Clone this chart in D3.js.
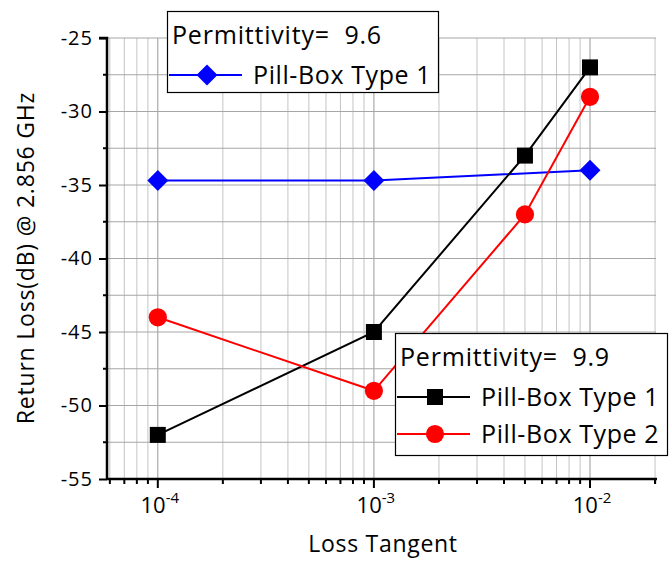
<!DOCTYPE html>
<html><head><meta charset="utf-8">
<script src="https://cdn.jsdelivr.net/npm/d3@7"></script>
<style>body{margin:0;background:#fff}svg{display:block}</style>
</head><body>
<script>
const lossTangent = [1e-4, 1e-3, 5e-3, 1e-2];
const blueX = [1e-4, 1e-3, 1e-2];
const blueType1 = [-34.7, -34.7, -34.0];
const blackType1 = [-52, -45, -33, -27];
const redType2 = [-44, -49, -37, -29];
const yTicks = [-55, -50, -45, -40, -35, -30, -25];
const xMajor = [1e-4, 1e-3, 1e-2];

const W = 671, H = 561;
const font = "'Open Sans', sans-serif";
const svg = d3.select("body").append("svg").attr("width", W).attr("height", H);
const x = d3.scaleLog().domain([5.82e-5, 2.02e-2]).range([107, 656]);
const y = d3.scaleLinear().domain([-55, -25]).range([479, 38]);

const xMinor = [];
for (let e = -5; e <= -2; e++) for (let m = 1; m <= 9; m++) {
  const v = m * Math.pow(10, e);
  if (v >= x.domain()[0] && v <= x.domain()[1]) xMinor.push(v);
}
const isMajor = d => xMajor.some(m => Math.abs(m - d) / m < 1e-6);
const g = svg.append("g");
g.selectAll(".vg").data(xMinor).join("line")
  .attr("x1", d => x(d)).attr("x2", d => x(d)).attr("y1", y(-25)).attr("y2", y(-55))
  .attr("stroke", d => isMajor(d) ? "#999" : "#c4c4c4").attr("stroke-width", 1);
const yGrid = d3.range(-52.5, -24.9, 2.5);
g.selectAll(".hg").data(yGrid).join("line")
  .attr("x1", x.range()[0]).attr("x2", x.range()[1]).attr("y1", d => y(d)).attr("y2", d => y(d))
  .attr("stroke", "#a6a6a6").attr("stroke-width", 1);

// axes
const yAxis = d3.axisLeft(y).tickValues(yTicks).tickSize(8).tickPadding(6).tickFormat(d => String(d));
const ya = svg.append("g").attr("transform", `translate(${x.range()[0]},0)`).call(yAxis);
ya.select(".domain").attr("stroke-width", 2.5).attr("d", `M-8,${y(-25)}H0V${y(-55)}`);
ya.selectAll(".tick line").attr("stroke-width", 2);
ya.selectAll(".tick text").attr("font-family", font).attr("font-size", 20).attr("letter-spacing", 1).attr("fill", "#000");
const yMinor = d3.range(-52.5, -25, 5);
svg.append("g").selectAll("line").data(yMinor).join("line")
  .attr("x1", x.range()[0] - 4).attr("x2", x.range()[0]).attr("y1", d => y(d)).attr("y2", d => y(d))
  .attr("stroke", "#000").attr("stroke-width", 2);

const xa = svg.append("g").attr("transform", `translate(0,${y.range()[0]})`);
xa.append("line").attr("x1", x.range()[0]).attr("x2", x.range()[1] + 1).attr("y1", 0).attr("y2", 0)
  .attr("stroke", "#000").attr("stroke-width", 2.5);
xa.selectAll(".mt").data(xMinor.concat([2e-2])).join("line")
  .attr("x1", d => x(d)).attr("x2", d => x(d)).attr("y1", 0)
  .attr("y2", d => isMajor(d) ? 9 : 5)
  .attr("stroke", "#000").attr("stroke-width", 2);
const xl = xa.selectAll(".xl").data(xMajor).join("text")
  .attr("x", d => x(d) + 2).attr("y", 34).attr("text-anchor", "middle")
  .attr("font-family", font).attr("font-size", 22).attr("fill", "#000");
xl.append("tspan").text("10");
xl.append("tspan").attr("dy", -10).attr("font-size", 15).text(d => Math.round(Math.log10(d)));

// axis titles
svg.append("text").attr("x", 383).attr("y", 552).attr("text-anchor", "middle")
  .attr("font-family", font).attr("font-size", 23).attr("letter-spacing", 0.7).text("Loss Tangent");
svg.append("text").attr("transform", "translate(34,258) rotate(-90)").attr("text-anchor", "middle")
  .attr("font-family", font).attr("font-size", 23).attr("letter-spacing", 0.8).text("Return Loss(dB) @ 2.856 GHz");

// series
const line = d3.line().x(d => x(d[0])).y(d => y(d[1]));
const blackD = lossTangent.map((t, i) => [t, blackType1[i]]);
const redD = lossTangent.map((t, i) => [t, redType2[i]]);
const blueD = blueX.map((t, i) => [t, blueType1[i]]);
const sq = d3.symbol().type(d3.symbolSquare).size(256);
const ci = d3.symbol().type(d3.symbolCircle).size(260);
function diamondPath(s) { return `M0,${-s}L${s},0L0,${s}L${-s},0Z`; }

svg.append("path").attr("d", line(blueD)).attr("fill", "none").attr("stroke", "#0000ff").attr("stroke-width", 2);
svg.append("path").attr("d", line(blackD)).attr("fill", "none").attr("stroke", "#000").attr("stroke-width", 2);
svg.append("path").attr("d", line(redD)).attr("fill", "none").attr("stroke", "#ff0000").attr("stroke-width", 2);
svg.selectAll(".bm").data(blueD).join("path").attr("transform", d => `translate(${x(d[0])},${y(d[1])})`)
  .attr("d", diamondPath(10.5)).attr("fill", "#0000ff");
svg.selectAll(".km").data(blackD).join("path").attr("transform", d => `translate(${x(d[0])},${y(d[1])})`)
  .attr("d", sq()).attr("fill", "#000");
svg.selectAll(".rm").data(redD).join("path").attr("transform", d => `translate(${x(d[0])},${y(d[1])})`)
  .attr("d", ci()).attr("fill", "#ff0000");

// legends
function legend(x0, y0, w, h, title, items) {
  const lg = svg.append("g").attr("transform", `translate(${x0},${y0})`);
  lg.append("rect").attr("x", 0.5).attr("y", 0.5).attr("width", w).attr("height", h)
    .attr("fill", "#fff").attr("stroke", "#000").attr("stroke-width", 1.2);
  lg.append("text").attr("x", 5).attr("y", 33).attr("font-family", font).attr("font-size", 25)
    .attr("letter-spacing", 0.8).attr("xml:space", "preserve").text(title);
  items.forEach((it, i) => {
    const cy = 64 + i * 37;
    lg.append("line").attr("x1", 2).attr("x2", 75).attr("y1", cy).attr("y2", cy)
      .attr("stroke", it.color).attr("stroke-width", 2);
    lg.append("path").attr("transform", `translate(40,${cy})`).attr("d", it.marker).attr("fill", it.color);
    lg.append("text").attr("x", 86).attr("y", cy + 9).attr("font-family", font).attr("font-size", 25)
      .attr("letter-spacing", 0.6).text(it.label);
  });
}
legend(167, 11, 271, 81, "Permittivity=\u00a0\u00a09.6", [{color: "#0000ff", marker: diamondPath(10.5), label: "Pill-Box Type 1"}]);
legend(395, 333, 272, 122, "Permittivity=\u00a0\u00a09.9", [
  {color: "#000", marker: sq(), label: "Pill-Box Type 1"},
  {color: "#ff0000", marker: ci(), label: "Pill-Box Type 2"}]);
</script>
</body></html>
